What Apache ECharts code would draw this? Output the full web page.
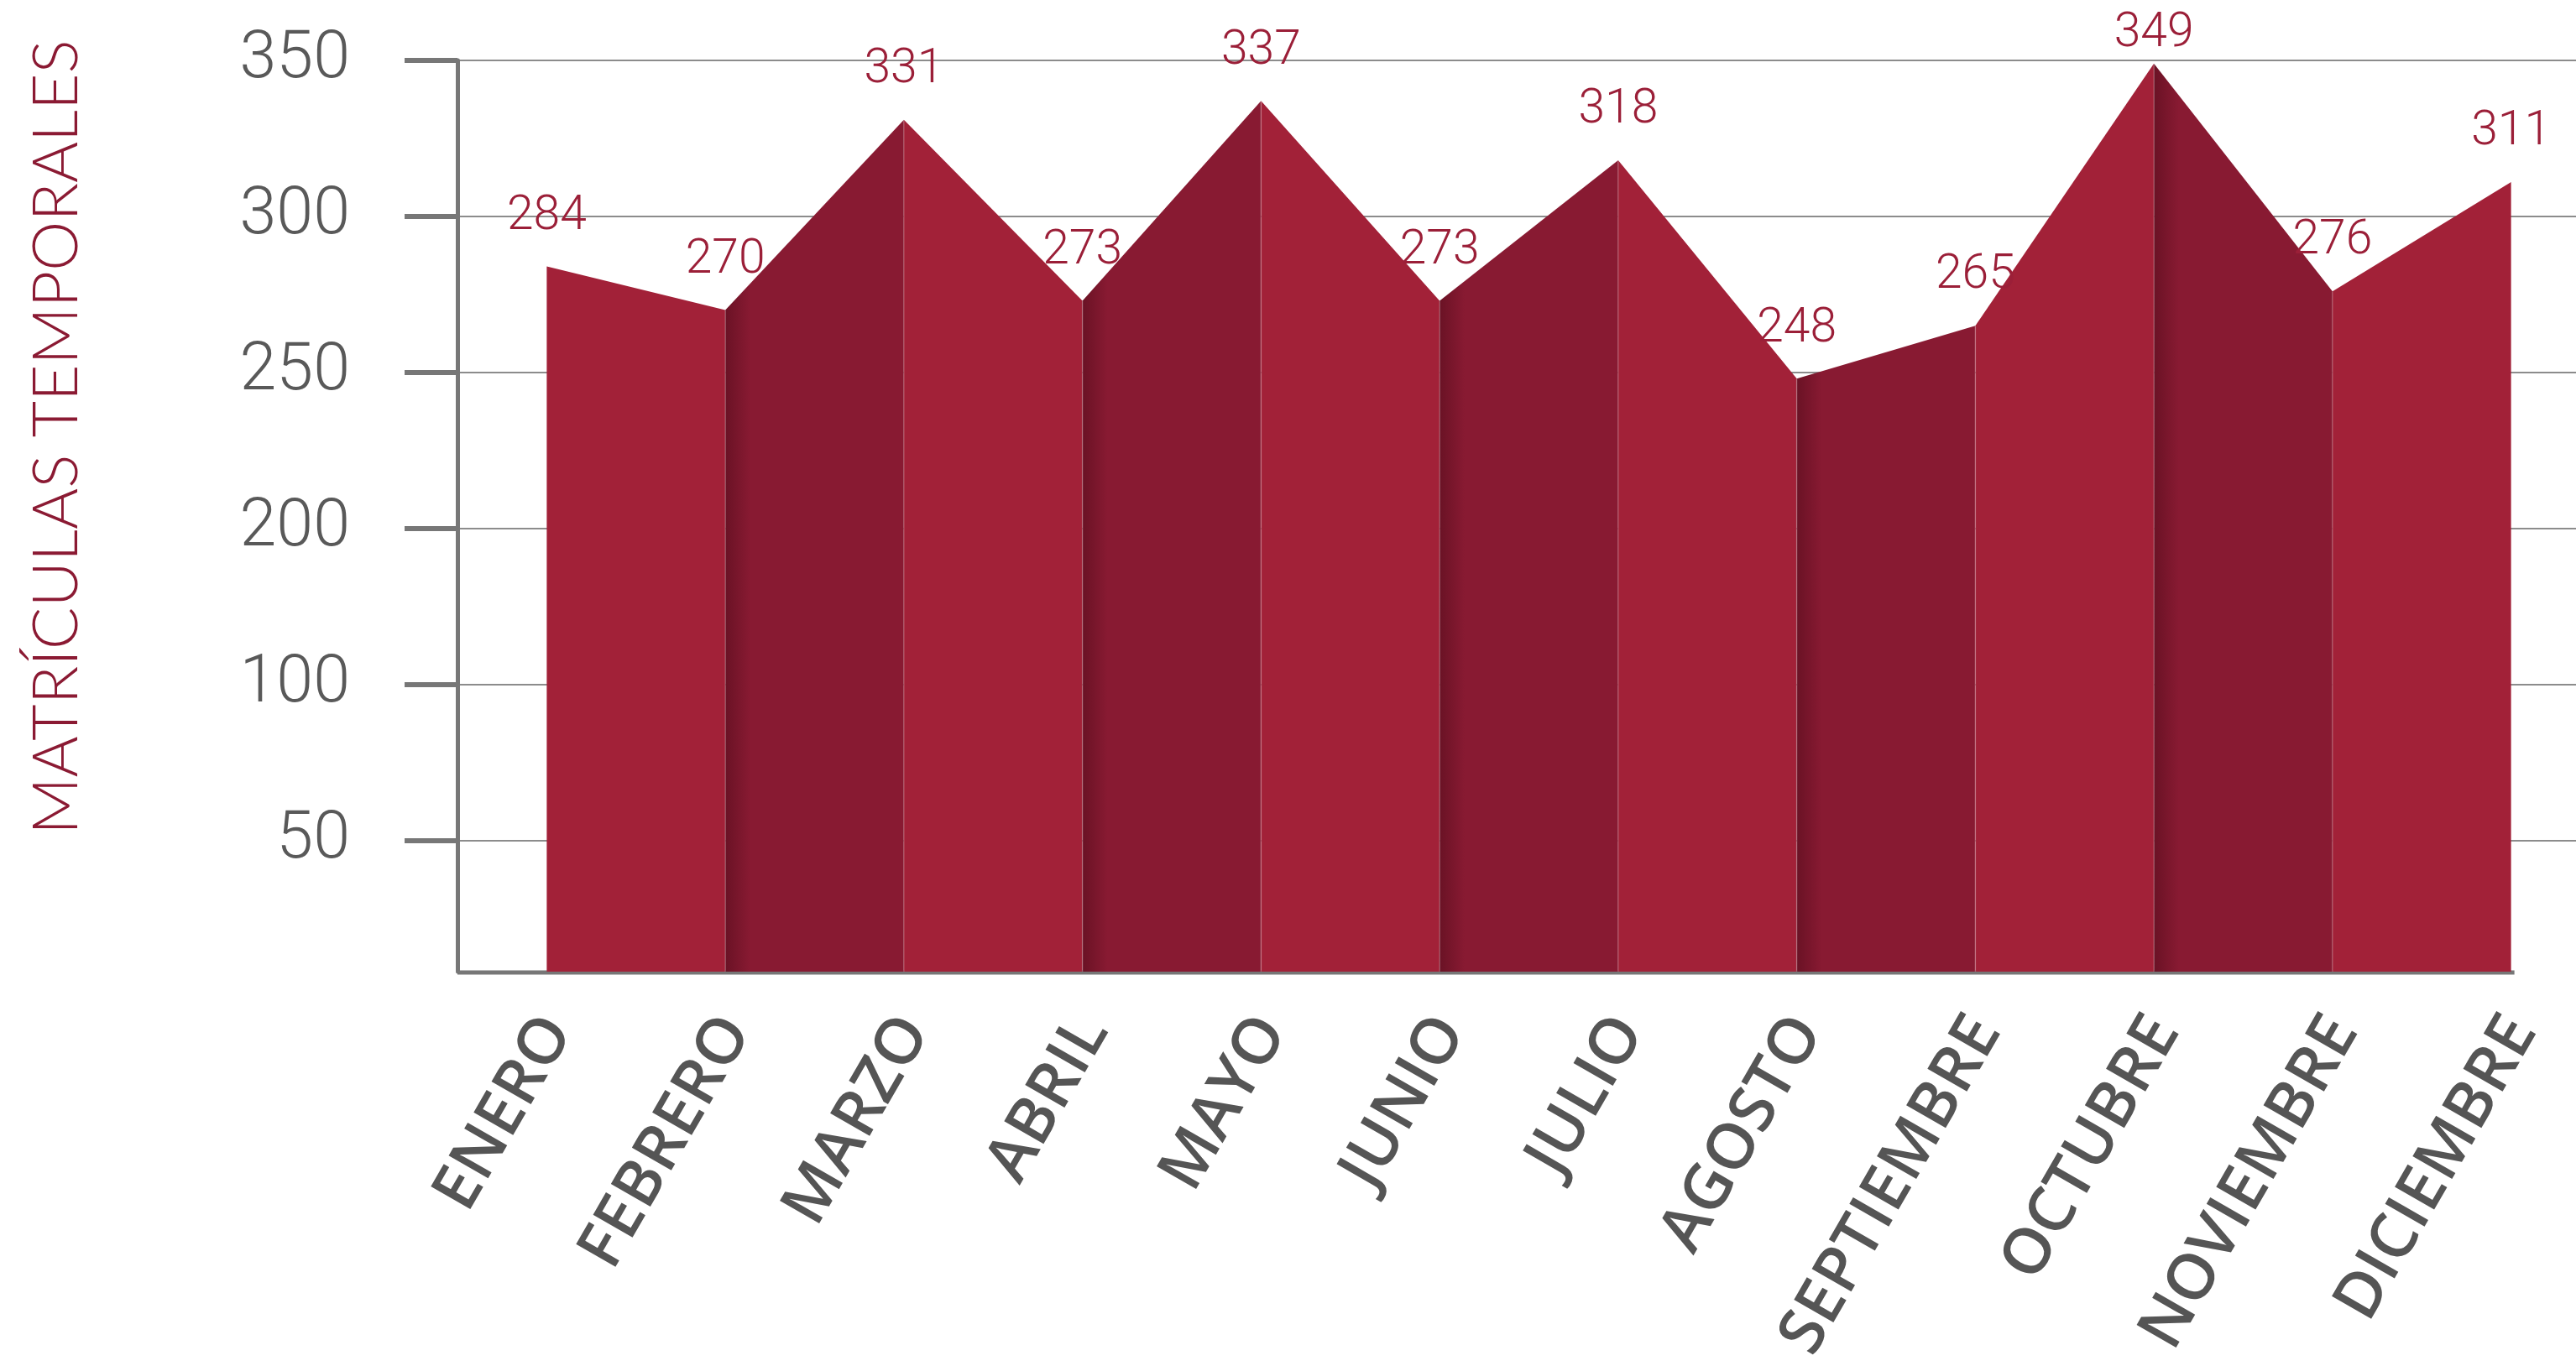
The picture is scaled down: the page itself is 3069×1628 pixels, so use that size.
<!DOCTYPE html>
<html>
<head>
<meta charset="utf-8">
<script src="https://cdn.jsdelivr.net/npm/echarts@6/dist/echarts.min.js"></script>
<style>
  html, body { margin: 0; padding: 0; background: #fff; }
  #chart { width: 3069px; height: 1628px; }
</style>
</head>
<body>
<div id="chart"></div>
<script>
const months = ['ENERO', 'FEBRERO', 'MARZO', 'ABRIL', 'MAYO', 'JUNIO', 'JULIO', 'AGOSTO', 'SEPTIEMBRE', 'OCTUBRE', 'NOVIEMBRE', 'DICIEMBRE'];
const matriculas = [284, 270, 331, 273, 337, 273, 318, 248, 265, 349, 276, 311];
// the printed axis: ticks sit every 50, but the two lowest are labelled 50 and 100
const yTickValues = [100, 150, 200, 250, 300, 350];
const yTickLabels = ['50', '100', '200', '250', '300', '350'];
const yMin = 58;
const yMax = 350;

// one folded panel between each pair of months
const panels = [];
for (let i = 0; i < matriculas.length - 1; i++) {
  panels.push([i, matriculas[i], matriculas[i + 1]]);
}
const peak = Math.max(...matriculas);

const LIGHT = '#a22138';
const DARK = '#881a32';

function renderPanel(params, api) {
  const i = api.value(0);
  const p0 = api.coord([i, api.value(1)]);
  const p1 = api.coord([i + 1, api.value(2)]);
  const b0 = api.coord([i, yMin]);
  const b1 = api.coord([i + 1, yMin]);
  const dark = i % 2 === 1;
  const fill = dark
    ? new echarts.graphic.LinearGradient(0, 0, 1, 0, [
        { offset: 0, color: '#6a1225' },
        { offset: 0.14, color: DARK },
        { offset: 1, color: DARK }
      ])
    : LIGHT;
  const children = [];
  if (i === 0) {
    // x axis line: from the y axis to the last month only
    const last = api.coord([matriculas.length - 1, yMin]);
    children.push({
      type: 'line',
      shape: { x1: params.coordSys.x, y1: b0[1] + 1, x2: last[0] + 4, y2: b0[1] + 1 },
      style: { stroke: '#777', lineWidth: 5 }
    });
  }
  children.push({
    type: 'polygon',
    shape: { points: [p0, p1, b1, b0] },
    style: { fill: fill }
  });
  if (i > 0) {
    children.push({
      type: 'line',
      shape: { x1: p0[0], y1: p0[1], x2: b0[0], y2: b0[1] },
      style: { stroke: 'rgba(255,255,255,0.2)', lineWidth: 1.5 }
    });
  }
  return { type: 'group', children: children };
}

const chart = echarts.init(document.getElementById('chart'));
chart.setOption({
  animation: false,
  grid: { left: 545, width: 2553, top: 72, bottom: 470, outerBoundsMode: 'none', containLabel: false },
  xAxis: {
    type: 'category',
    data: months,
    axisLine: { show: false },
    axisTick: { show: false },
    splitLine: { show: false },
    axisLabel: {
      interval: 0,
      rotate: 60,
      margin: 52,
      fontSize: 76,
      lineHeight: 30,
      verticalAlign: 'top',
      fontWeight: 600,
      fontFamily: 'Open Sans',
      color: '#555'
    }
  },
  yAxis: {
    type: 'value',
    min: yMin,
    max: yMax,
    name: 'MATRÍCULAS TEMPORALES',
    nameLocation: 'middle',
    nameRotate: 90,
    nameGap: 440,
    nameTextStyle: {
      fontSize: 75,
      fontWeight: 300,
      fontFamily: 'Lato',
      color: '#8b1a33',
      padding: [0, 0, 0, 188]
    },
    axisLine: { show: true, lineStyle: { color: '#777', width: 5 } },
    axisTick: {
      show: true,
      length: 63,
      customValues: yTickValues,
      lineStyle: { color: '#777', width: 6 }
    },
    axisLabel: {
      customValues: yTickValues,
      margin: 128,
      fontSize: 79,
      fontFamily: 'Roboto',
      fontWeight: 300,
      color: '#595959',
      formatter: function (v) {
        const k = yTickValues.indexOf(v);
        return k >= 0 ? yTickLabels[k] : '';
      }
    },
    splitLine: { show: true, lineStyle: { color: '#8c8c8c', width: 2 } }
  },
  series: [
    {
      type: 'custom',
      renderItem: renderPanel,
      data: panels,
      encode: { x: 0, y: [1, 2] },
      z: 2
    },
    {
      type: 'line',
      // the top value sits close to the frame, so its label hugs the peak
      data: matriculas.map(v => (v === peak ? { value: v, label: { distance: 6 } } : v)),
      symbol: 'circle',
      symbolSize: 1,
      itemStyle: { color: 'transparent' },
      lineStyle: { width: 0 },
      silent: true,
      z: 5,
      label: {
        show: true,
        position: 'top',
        distance: 30,
        fontSize: 57,
        fontFamily: 'Roboto',
        fontWeight: 300,
        color: '#9b1f38'
      }
    }
  ]
});
</script>
</body>
</html>
